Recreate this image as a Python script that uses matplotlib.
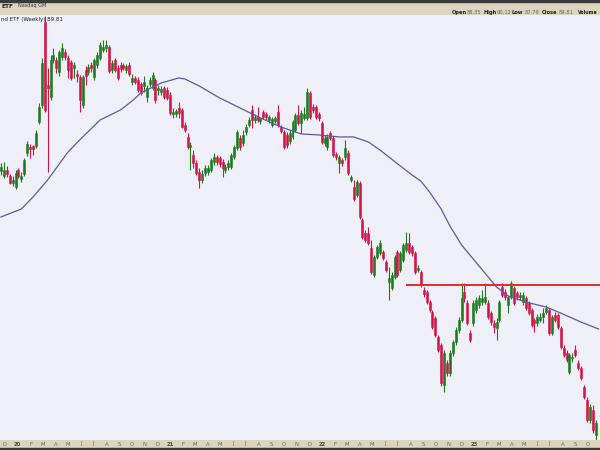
import matplotlib
matplotlib.use('Agg')
import matplotlib.pyplot as plt
import matplotlib.dates as mdates
import matplotlib.transforms as mtransforms
from matplotlib.patches import Rectangle
import pandas as pd

# ---------------- data (weekly bars) ----------------
first_week = '2019-11-22'

opens = [
    135.76, 134.51, 136.01, 134.51, 132.77, 131.79, 136.01, 133.76, 135.01, 140.38,
    141.96, 142.23, 142.22, 148.70, 153.48, 179.04, 159.28, 155.77, 166.84, 166.84,
    163.17, 167.77, 169.34, 167.46, 166.23, 164.38, 162.57, 161.66, 153.48, 163.77,
    163.17, 165.31, 161.66, 165.31, 167.46, 169.97, 170.61, 170.92, 163.77, 166.84,
    164.38, 165.31, 165.31, 163.77, 165.31, 160.17, 161.35, 160.76, 159.58, 158.98,
    155.77, 159.58, 158.38, 160.76, 157.80, 157.22, 158.38, 157.80, 156.35, 150.93,
    150.93, 152.62, 152.05, 147.88, 144.62, 141.96, 139.86, 137.80, 135.51, 133.51,
    135.26, 135.51, 136.01, 138.05, 139.34, 139.08, 138.05, 136.01, 136.77, 136.77,
    139.34, 141.69, 144.34, 143.02, 145.96, 147.88, 152.05, 149.25, 150.09, 148.98,
    151.49, 150.93, 149.25, 147.88, 148.98, 151.49, 147.33, 145.96, 145.16, 143.55,
    144.62, 146.50, 150.65, 148.43, 149.81, 149.81, 156.93, 152.91, 152.91, 150.93,
    148.43, 143.02, 141.96, 145.69, 144.34, 140.12, 137.80, 138.56, 139.34, 140.38,
    133.51, 131.79, 129.85, 132.77, 123.95, 121.00, 121.00, 117.67, 111.91, 115.71,
    116.58, 116.80, 114.65, 110.46, 109.24, 111.49, 116.80, 112.95, 115.07, 117.23,
    118.77, 117.88, 116.58, 112.95, 112.53, 108.83, 108.43, 106.44, 104.47, 103.31,
    99.74, 98.27, 91.24, 95.04, 93.29, 96.82, 98.82, 101.04, 102.93, 108.43,
    106.24, 100.48, 102.36, 104.86, 105.85, 106.44, 106.44, 106.24, 104.28, 102.36,
    101.42, 102.93, 109.44, 108.43, 105.85, 107.42, 109.24, 108.23, 107.42, 106.44,
    107.22, 106.24, 104.86, 102.93, 102.36, 102.93, 103.50, 104.47, 104.86, 100.48,
    103.90, 103.90, 101.42, 97.72, 96.82, 93.47, 95.93, 97.36, 95.04, 94.16,
    90.89, 88.73, 85.50, 87.10, 83.15,
]
highs = [
    137.80, 138.05, 137.03, 135.01, 134.51, 136.01, 136.51, 135.51, 139.08, 143.55,
    142.75, 142.49, 146.50, 154.05, 167.46, 181.03, 164.38, 168.41, 170.61, 167.77,
    169.97, 172.20, 170.29, 168.41, 166.84, 166.23, 163.77, 162.27, 162.27, 164.99,
    165.61, 166.23, 167.46, 169.34, 172.51, 173.15, 173.15, 171.56, 166.84, 167.46,
    165.31, 166.23, 165.92, 165.61, 166.23, 162.57, 161.96, 161.66, 160.17, 161.96,
    159.28, 161.66, 163.17, 161.35, 159.28, 158.98, 158.98, 158.68, 157.22, 152.62,
    152.33, 154.33, 152.62, 148.70, 145.69, 143.28, 141.16, 138.56, 136.52, 136.01,
    137.29, 137.29, 139.08, 140.38, 139.86, 139.60, 138.82, 137.54, 138.56, 140.38,
    142.49, 146.50, 145.16, 146.50, 148.15, 150.09, 153.48, 150.93, 152.91, 150.09,
    152.05, 151.49, 150.65, 150.09, 150.37, 153.48, 147.88, 146.50, 145.96, 146.50,
    149.25, 151.21, 153.48, 152.05, 152.91, 158.38, 157.51, 153.76, 153.48, 151.49,
    148.98, 145.16, 145.42, 146.23, 144.89, 140.64, 139.86, 139.08, 143.81, 141.16,
    134.76, 133.51, 133.51, 133.26, 124.41, 121.67, 122.35, 119.43, 116.15, 118.33,
    119.43, 117.23, 115.07, 113.59, 112.53, 116.15, 117.23, 117.01, 118.77, 121.22,
    121.00, 118.33, 117.01, 114.01, 112.95, 109.44, 108.83, 106.83, 104.86, 103.70,
    100.11, 98.63, 97.36, 95.57, 97.36, 99.18, 101.61, 103.50, 110.26, 110.26,
    106.83, 101.04, 106.83, 107.42, 107.82, 108.83, 110.26, 106.83, 104.67, 102.93,
    103.31, 106.83, 110.26, 109.03, 107.82, 110.67, 109.65, 108.63, 108.43, 108.43,
    107.62, 106.63, 105.25, 103.31, 104.09, 104.28, 105.25, 105.85, 105.25, 103.90,
    104.47, 104.28, 101.80, 98.27, 97.36, 96.82, 96.82, 98.27, 95.57, 94.51,
    91.24, 89.23, 88.08, 87.92, 85.50,
]
lows = [
    134.76, 134.01, 134.26, 132.53, 132.03, 131.30, 134.01, 133.02, 134.51, 139.60,
    139.08, 139.86, 141.69, 148.15, 152.62, 151.49, 135.51, 154.90, 165.92, 162.87,
    161.96, 166.84, 166.84, 161.35, 160.76, 161.35, 160.17, 151.49, 152.62, 159.28,
    162.27, 163.17, 160.76, 164.38, 166.84, 169.34, 169.34, 162.87, 162.87, 163.17,
    160.76, 163.17, 163.77, 162.87, 161.96, 159.28, 159.58, 157.22, 156.35, 157.22,
    154.33, 158.68, 157.80, 154.05, 156.35, 156.35, 155.19, 154.90, 150.65, 149.81,
    150.09, 149.81, 147.05, 145.96, 141.43, 136.01, 136.52, 134.76, 131.54, 132.77,
    134.51, 134.76, 135.51, 137.29, 137.29, 136.77, 134.26, 135.26, 136.01, 136.26,
    138.82, 141.16, 141.16, 142.22, 145.16, 147.33, 147.05, 148.43, 148.70, 148.15,
    149.53, 149.25, 148.43, 147.33, 148.43, 147.33, 145.69, 141.43, 141.69, 142.75,
    144.08, 145.96, 147.88, 145.69, 149.25, 149.25, 149.53, 151.21, 149.53, 148.98,
    142.75, 142.22, 141.16, 143.81, 139.34, 138.56, 135.26, 137.03, 138.56, 134.76,
    133.02, 128.40, 129.36, 124.18, 119.65, 118.99, 118.33, 112.12, 111.49, 115.29,
    116.15, 115.07, 112.53, 106.83, 108.83, 111.07, 111.49, 112.53, 114.65, 116.80,
    116.37, 115.93, 112.12, 112.53, 109.44, 107.42, 106.04, 104.47, 101.23, 99.74,
    97.00, 91.07, 90.06, 92.78, 92.78, 96.28, 98.27, 100.48, 102.55, 106.44,
    101.99, 98.82, 101.80, 104.28, 105.25, 105.85, 106.04, 103.12, 101.99, 100.48,
    99.18, 102.55, 107.42, 106.83, 104.28, 107.02, 105.85, 106.83, 106.83, 105.85,
    104.86, 103.90, 101.61, 100.67, 101.80, 102.55, 102.36, 104.09, 100.11, 100.11,
    102.55, 101.23, 97.54, 96.10, 95.22, 93.12, 95.22, 96.10, 93.81, 92.09,
    88.90, 85.18, 85.03, 83.46, 82.38,
]
closes = [
    136.77, 136.01, 135.01, 132.77, 133.51, 135.26, 134.51, 134.51, 138.56, 142.75,
    141.43, 141.43, 145.69, 152.91, 165.92, 152.05, 158.38, 166.84, 168.41, 164.38,
    169.34, 170.61, 167.77, 163.77, 161.35, 165.31, 161.96, 154.90, 161.66, 161.96,
    164.69, 164.38, 166.84, 168.41, 171.56, 170.92, 171.56, 163.47, 165.92, 163.77,
    161.35, 164.07, 164.38, 164.99, 162.57, 161.35, 160.17, 157.80, 156.93, 160.17,
    158.38, 160.76, 162.27, 154.90, 158.38, 158.09, 155.77, 155.48, 151.21, 151.49,
    151.77, 151.21, 147.33, 146.50, 141.96, 142.49, 137.80, 135.26, 133.51, 135.01,
    136.52, 136.52, 138.56, 139.34, 138.05, 137.54, 136.52, 136.77, 137.80, 139.86,
    141.96, 145.96, 141.96, 145.16, 147.33, 149.25, 149.25, 150.09, 149.25, 149.53,
    150.09, 150.09, 150.09, 149.53, 149.81, 147.88, 146.23, 141.96, 142.49, 145.69,
    148.70, 150.65, 148.43, 151.21, 150.93, 157.22, 150.09, 152.05, 150.09, 149.81,
    143.28, 144.34, 144.62, 144.34, 139.86, 139.34, 139.34, 137.80, 141.69, 135.26,
    134.26, 128.88, 133.02, 124.65, 120.10, 119.43, 118.77, 112.53, 115.71, 117.88,
    118.77, 115.50, 112.95, 111.28, 111.91, 115.71, 111.91, 116.58, 118.33, 118.77,
    116.80, 116.58, 112.53, 113.37, 109.85, 108.03, 106.44, 104.86, 101.61, 100.11,
    97.36, 91.58, 96.82, 93.29, 96.82, 98.82, 101.04, 102.93, 107.22, 107.22,
    102.36, 99.18, 106.24, 106.83, 107.22, 107.22, 107.42, 103.50, 102.55, 101.61,
    102.55, 106.44, 107.82, 107.42, 107.42, 110.26, 106.24, 107.42, 107.82, 107.82,
    105.25, 104.28, 101.99, 102.36, 103.50, 103.50, 104.28, 105.25, 100.48, 103.50,
    102.93, 101.61, 97.90, 96.46, 95.57, 96.46, 96.10, 96.46, 94.16, 92.43,
    89.23, 85.50, 87.59, 83.92, 85.03,
]

# 40-week moving average, read at selected weeks (week number from first bar)
ma_weeks = [0, 7, 11, 16, 20, 23, 27, 34, 41, 45, 48, 55, 61, 63, 68, 75, 82, 89,
            96, 103, 109, 116, 121, 126, 130, 137, 141, 144, 147, 151, 154, 158,
            164, 170, 174, 180, 187, 192, 199, 205]
ma_values = [124.65, 126.51, 129.36, 133.51, 137.54, 140.64, 143.81, 149.25,
             152.05, 154.62, 156.93, 159.87, 161.36, 161.06, 158.98, 155.48,
             152.62, 149.81, 147.33, 145.42, 145.16, 144.62, 144.62, 143.28,
             141.16, 137.03, 134.76, 133.26, 130.57, 126.51, 122.58, 118.33,
             113.80, 109.44, 107.62, 106.44, 105.45, 104.28, 102.55, 101.23]

resistance_level = 109.84
resistance_start = '2022-07-22'

# visible (left-cropped) texts of the reference
title_tail = 'ETF'
exchange = 'Nasdaq GM'
chart_label = 'nd ETF (Weekly) 89.81'
last_bar = [('Open', '88.35'), ('High', '90.12'), ('Low', '87.79'),
            ('Close', '89.81'), ('Volume', '')]

# ---------------- figure ----------------
W, H = 600, 450
fig = plt.figure(figsize=(6, 4.5), dpi=100)
beige = '#ddd4bf'
fig.patch.set_facecolor(beige)

plot_bg = '#efeff7'
up_col = '#1d7a1d'
down_col = '#d21448'

ax = fig.add_axes([0, 10 / H, 1, 425 / H])
ax.set_facecolor(plot_bg)

dates = pd.date_range(first_week, periods=len(opens), freq='W-FRI')
dn = mdates.date2num(dates)

days_per_px = 7 / 2.915
x_left = dn[0] - 1 * days_per_px
x_right = dn[0] + 599 * days_per_px

cols = [up_col if c >= o else down_col for o, c in zip(opens, closes)]
ax.vlines(dn, lows, highs, colors=cols, linewidth=0.8, zorder=2)
bottoms = [min(o, c) for o, c in zip(opens, closes)]
heights = [abs(c - o) for o, c in zip(opens, closes)]
ax.bar(dn, heights, bottom=bottoms, width=4.8, color=cols, edgecolor=cols,
       linewidth=0.4, zorder=3)

ma_x = [dn[0] + 7 * w for w in ma_weeks]
ax.plot(ma_x, ma_values, color='#5a5aa6', linewidth=0.9, zorder=4,
        solid_joinstyle='round')

rs = mdates.date2num(pd.Timestamp(resistance_start))
ax.hlines(resistance_level, rs, x_right, colors='#e42a2a', linewidth=1.4, zorder=5)

ax.set_yscale('log')
ax.set_ylim(82.38, 181.37)
ax.set_xlim(x_left, x_right)
ax.set_xticks([])
ax.set_yticks([])
ax.minorticks_off()
for s in ax.spines.values():
    s.set_visible(False)

fig.text(1 / W, 1 - 19 / H, chart_label, ha='left', va='center', fontsize=4.0,
         color='#222222')

# header band
fig.patches.append(Rectangle((0, 1 - 2 / H), 1, 2 / H, transform=fig.transFigure,
                             color='#3a3a3a', zorder=10))
fig.text(1 / W, 1 - 6 / H, title_tail, ha='left', va='center', fontsize=4.2,
         weight='bold', color='#222222')
fig.text(18 / W, 1 - 6 / H, exchange, ha='left', va='center', fontsize=3.6,
         color='#333333')
xpos = [452, 467, 483, 497, 512, 525, 542, 559, 578]
k = 0
for lab, val in last_bar:
    fig.text(xpos[k] / W, 1 - 12.5 / H, lab, ha='left', va='center',
             fontsize=3.3 if lab == 'Volume' else 3.7,
             weight='bold', color='#222222')
    k += 1
    if val:
        fig.text(xpos[k] / W, 1 - 12.5 / H, val, ha='left', va='center',
                 fontsize=3.7, color='#666666')
        k += 1

# bottom date band
fig.patches.append(Rectangle((0, 0), 1, 2 / H, transform=fig.transFigure,
                             color='#3a3a3a', zorder=10))
trans = mtransforms.blended_transform_factory(ax.transData, fig.transFigure)
months = pd.date_range('2019-12-01', '2023-10-31', freq='MS')
for m in months:
    mx = mdates.date2num(m)
    if m.month == 1:
        fig.text(mx, 6 / H, m.strftime('%y'), transform=trans, ha='center',
                 va='center', fontsize=3.8, weight='bold', color='#444444')
    else:
        fig.text(mx, 6 / H, m.strftime('%b')[0], transform=trans, ha='center',
                 va='center', fontsize=3.8, color='#666666')

fig.savefig('out.png', dpi=100)
